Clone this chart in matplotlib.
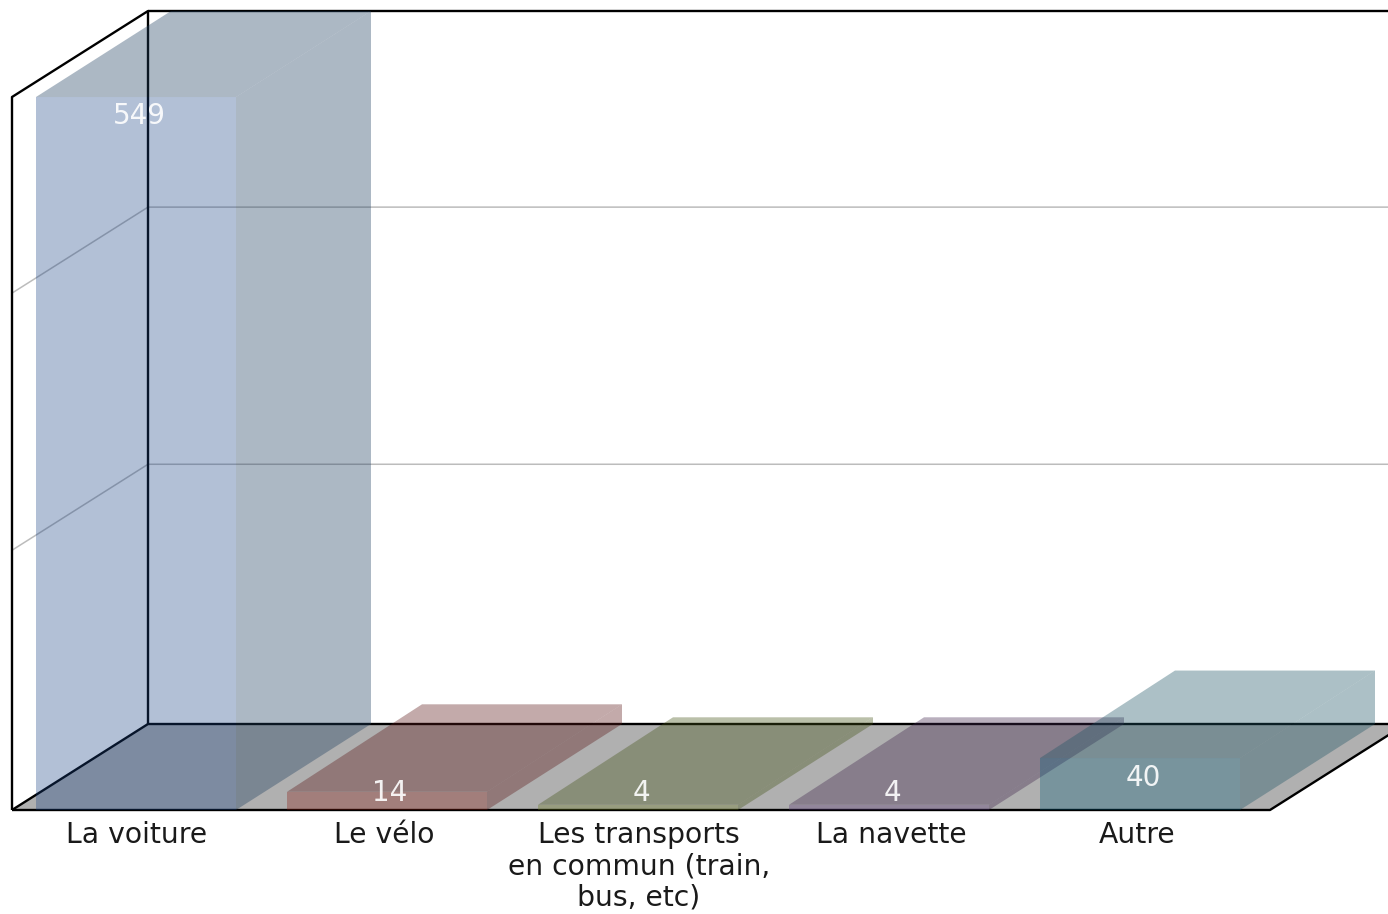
import matplotlib
matplotlib.use('Agg')
import matplotlib.pyplot as plt

categories = ['La voiture', 'Le vélo', 'Les transports\nen commun (train,\nbus, etc)', 'La navette', 'Autre']
values = [549, 14, 4, 4, 40]
grid_values = [200, 398]

front_colors = [(22, 64, 131), (136, 27, 15), (105, 120, 30), (85, 50, 115), (6, 91, 121)]
side_colors = [(31, 63, 96), (93, 25, 25), (70, 84, 24), (65, 38, 78), (31, 85, 101)]

W, H = 1388, 914
floor_px = 810
first_px, pitch_px = 136, 251
px_per_value = 1.2987
depth_x = 135 / pitch_px  # 3d offset, in category units
depth_y = 86 / px_per_value  # 3d offset, in value units
bar_depth_y = 87.5 / px_per_value
bar_w = 200 / pitch_px
wall_x = 136 / pitch_px  # frame is offset a bit more than the bars
top_value = 549
label_nudge = [1, -3, 1, 2, -3]  # px


def rgb(c):
    return tuple(v / 255 for v in c)


fig = plt.figure(figsize=(W / 100, H / 100), dpi=100)
ax = fig.add_axes([0, (H - floor_px) / H, 1, floor_px / H])
ax.set_xlim(-first_px / pitch_px, (W - first_px) / pitch_px)
ax.set_ylim(0, floor_px / px_per_value)

x_left = (12 - first_px) / pitch_px
x_right = (1270 - first_px) / pitch_px
x_end = x_right + wall_x
y_ceiling = top_value + depth_y

# floor
ax.fill([x_left, x_left + wall_x, x_end, x_right], [0, depth_y, depth_y, 0], color='#b0b0b0', lw=0, zorder=1)

# grid lines on both walls
for g in grid_values:
    ax.plot([x_left, x_left + wall_x, x_end], [g, g + depth_y, g + depth_y], color='#bcbcbc', lw=1.1, zorder=2)

# frame
line = dict(color='black', lw=1.7, zorder=3, clip_on=False, solid_capstyle='butt')
ax.plot([x_left, x_left, x_left + wall_x, x_left + wall_x], [0, top_value, y_ceiling, depth_y], **line)
ax.plot([x_left + wall_x, x_end], [y_ceiling, y_ceiling], **line)
ax.plot([x_left, x_left + wall_x, x_end], [0, depth_y, depth_y], **line)
ax.plot([x_left, x_right, x_end], [0, 0, depth_y], **line)

# bars: top and side are translucent, the front goes on last
for i, v in enumerate(values):
    x0 = i - bar_w / 2
    x1 = i + bar_w / 2
    back = min(v + bar_depth_y, y_ceiling)
    ax.fill([x0, x0 + depth_x, x1 + depth_x, x1], [v, back, back, v],
            color=rgb(side_colors[i]), alpha=0.37, lw=0, zorder=4)
    ax.fill([x1, x1 + depth_x, x1 + depth_x, x1], [v, back, depth_y, 0],
            color=rgb(side_colors[i]), alpha=0.37, lw=0, zorder=4)

ax.bar(range(len(values)), values, width=bar_w, color=[rgb(c) + (0.33,) for c in front_colors], lw=0, zorder=5)

for i, v in enumerate(values):
    ax.text(i + 3 / pitch_px, max(v - 15, 13), str(v), color='white', fontsize=20, alpha=0.9,
            ha='center', va='center', zorder=6)

ax.set_xticks([i + label_nudge[i] / pitch_px for i in range(len(categories))])
ax.set_xticklabels(categories, fontsize=20.3, color='#1a1a1a', linespacing=1.15)
ax.tick_params(axis='x', length=0, pad=8)
ax.set_yticks([])
for s in ax.spines.values():
    s.set_visible(False)

fig.savefig('out.png', dpi=100)
